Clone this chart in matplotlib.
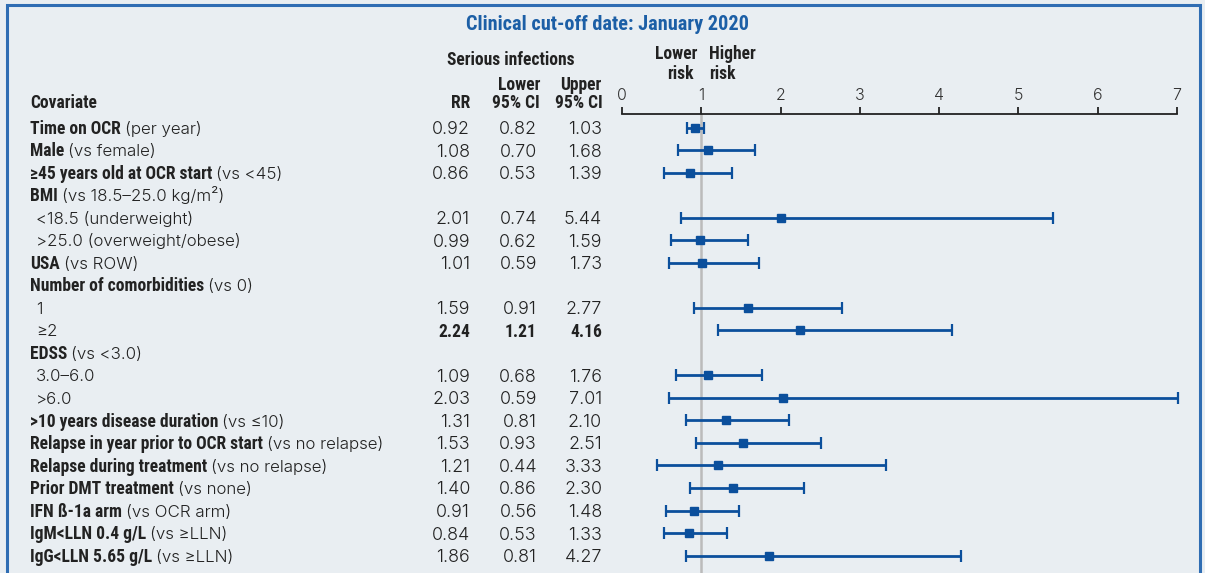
import matplotlib
matplotlib.use("Agg")
import matplotlib.pyplot as plt
from matplotlib import transforms
from matplotlib.patches import Rectangle

# ---------------- data ----------------
title = "Clinical cut-off date: January 2020"
label_bold = ["Time on OCR", "Male", "≥45 years old at OCR start", "BMI", "", "",
              "USA", "Number of comorbidities", "", "", "EDSS", "", "",
              ">10 years disease duration", "Relapse in year prior to OCR start",
              "Relapse during treatment", "Prior DMT treatment", "IFN ß-1a arm",
              "IgM<LLN 0.4 g/L", "IgG<LLN 5.65 g/L"]
label_rest = ["(per year)", "(vs female)", "(vs <45)", "(vs 18.5–25.0 kg/m²)",
              "<18.5 (underweight)", ">25.0 (overweight/obese)", "(vs ROW)", "(vs 0)",
              "1", "≥2", "(vs <3.0)", "3.0–6.0", ">6.0", "(vs ≤10)", "(vs no relapse)",
              "(vs no relapse)", "(vs none)", "(vs OCR arm)", "(vs ≥LLN)", "(vs ≥LLN)"]
rr = [0.92, 1.08, 0.86, None, 2.01, 0.99, 1.01, None, 1.59, 2.24, None,
      1.09, 2.03, 1.31, 1.53, 1.21, 1.40, 0.91, 0.84, 1.86]
lower = [0.82, 0.70, 0.53, None, 0.74, 0.62, 0.59, None, 0.91, 1.21, None,
         0.68, 0.59, 0.81, 0.93, 0.44, 0.86, 0.56, 0.53, 0.81]
upper = [1.03, 1.68, 1.39, None, 5.44, 1.59, 1.73, None, 2.77, 4.16, None,
         1.76, 7.01, 2.10, 2.51, 3.33, 2.30, 1.48, 1.33, 4.27]
significant = [False] * 9 + [True] + [False] * 10
x_ticks = [0, 1, 2, 3, 4, 5, 6, 7]

# ---------------- style ----------------
W, H = 1205, 573
BG = "#E9EEF2"
BLUE = "#0B4F9C"
TITLE_BLUE = "#1C5FA6"
FRAME = "#2F6DB3"
TXT = "#222222"
COND = "Roboto Condensed"
REG = "Inter"

fig = plt.figure(figsize=(W / 100, H / 100), dpi=100, facecolor=BG)
renderer = fig.canvas.get_renderer()

def fit(s, family, weight, target_px, base=12.0):
    t = fig.text(0, 0, s, family=family, weight=weight, fontsize=base)
    w = t.get_window_extent(renderer).width
    t.remove()
    return base * target_px / w

# font sizes fitted to the reference's measured text widths
FSB = fit("Relapse in year prior to OCR start", COND, "bold", 235)
FSR = fit("(vs no relapse)", REG, 300, 117)
FSN = fit("0.92", REG, 300, 38)
FST = fit(title, COND, "bold", 283)

def fx(px):
    return px / W

def fy(py):
    return 1 - py / H

def half_cap(size, ratio):
    return size * 100 / 72 * ratio / 2

def down(px):
    return transforms.ScaledTranslation(0, -px / 100, fig.dpi_scale_trans)

# frame
fig.add_artist(Rectangle((fx(7), -0.05), fx(1200 - 7), fy(5) + 0.05,
                         transform=fig.transFigure, fill=False, ec=FRAME, lw=2.2))

# forest axes
row0, dy = 127.5, 22.53
ax_top = 113.5
ax = fig.add_axes([fx(622), 0, fx(1177 - 622), 1 - ax_top / H])
ax.set_facecolor("none")
ax.set_xlim(0, 7)
ax.set_ylim((H - row0) / dy, (ax_top - row0) / dy)

for s in ["left", "right", "bottom"]:
    ax.spines[s].set_visible(False)
ax.spines["top"].set_color(TXT)
ax.spines["top"].set_linewidth(1.3)
ax.xaxis.set_ticks_position("top")
ax.set_xticks(x_ticks)
ax.tick_params(axis="x", direction="out", length=5, width=1.3, color=TXT,
               pad=2.5, labelsize=11.5, labelcolor="#333333")
for t in ax.get_xticklabels():
    t.set_fontfamily(REG)
    t.set_fontweight(300)
ax.set_yticks([])

ax.axvline(1, color="#BBBBBB", lw=1.8, zorder=1, clip_on=False)

idx = [i for i, v in enumerate(rr) if v is not None]
xs = [rr[i] for i in idx]
err = [[rr[i] - lower[i] for i in idx], [upper[i] - rr[i] for i in idx]]
eb = ax.errorbar(xs, idx, xerr=err, fmt="s", color=BLUE, ms=5.2, elinewidth=2,
                 capsize=4.4, capthick=1.6, zorder=3)
eb.lines[0].set_clip_on(False)
for a in list(eb.lines[1]) + list(eb.lines[2]):
    a.set_clip_on(False)

# text transforms (row value -> cap-height centre)
base_tr = transforms.blended_transform_factory(fig.transFigure, ax.transData)
trb = base_tr + down(half_cap(FSB, 0.711))
trr = base_tr + down(half_cap(FSR, 0.727))
trn = base_tr + down(half_cap(FSN, 0.727))

def head(xpx, ypx, s, ha, size=None, color=TXT):
    size = size or FSB
    return fig.text(fx(xpx), fy(ypx + half_cap(size, 0.711)), s, ha=ha, va="baseline",
                    family=COND, weight="bold", fontsize=size, color=color)

head(607, 23, title, "center", size=FST, color=TITLE_BLUE)
head(511, 59, "Serious infections", "center")
head(540, 84, "Lower", "right")
head(601, 84, "Upper", "right")
head(470, 102, "RR", "right")
head(540, 102, "95% CI", "right")
head(603, 102, "95% CI", "right")
head(30, 102, "Covariate", "left")
head(697, 53, "Lower", "right")
head(694, 73, "risk", "right")
head(709, 53, "Higher", "left")
head(709, 73, "risk", "left")

for i in range(len(label_rest)):
    if label_bold[i]:
        b = ax.text(fx(30), i, label_bold[i], transform=trb, ha="left", va="baseline",
                    family=COND, weight="bold", fontsize=FSB, color=TXT)
        x1 = b.get_window_extent(renderer).x1
        ax.text(x1 / W + fx(4), i, label_rest[i], transform=trb, ha="left",
                va="baseline", family=REG, weight=300, fontsize=FSR, color=TXT)
    else:
        ax.text(fx(36), i, label_rest[i], transform=trr, ha="left", va="baseline",
                family=REG, weight=300, fontsize=FSR, color=TXT)
    if rr[i] is not None:
        bold = significant[i]
        for xpx, v in [(470, rr[i]), (537, lower[i]), (602, upper[i])]:
            ax.text(fx(xpx), i, f"{v:.2f}", transform=trb if bold else trn,
                    ha="right", va="baseline",
                    family=COND if bold else REG, weight="bold" if bold else 300,
                    fontsize=FSB if bold else FSN, color=TXT)

fig.savefig("out.png", dpi=100, facecolor=BG)
